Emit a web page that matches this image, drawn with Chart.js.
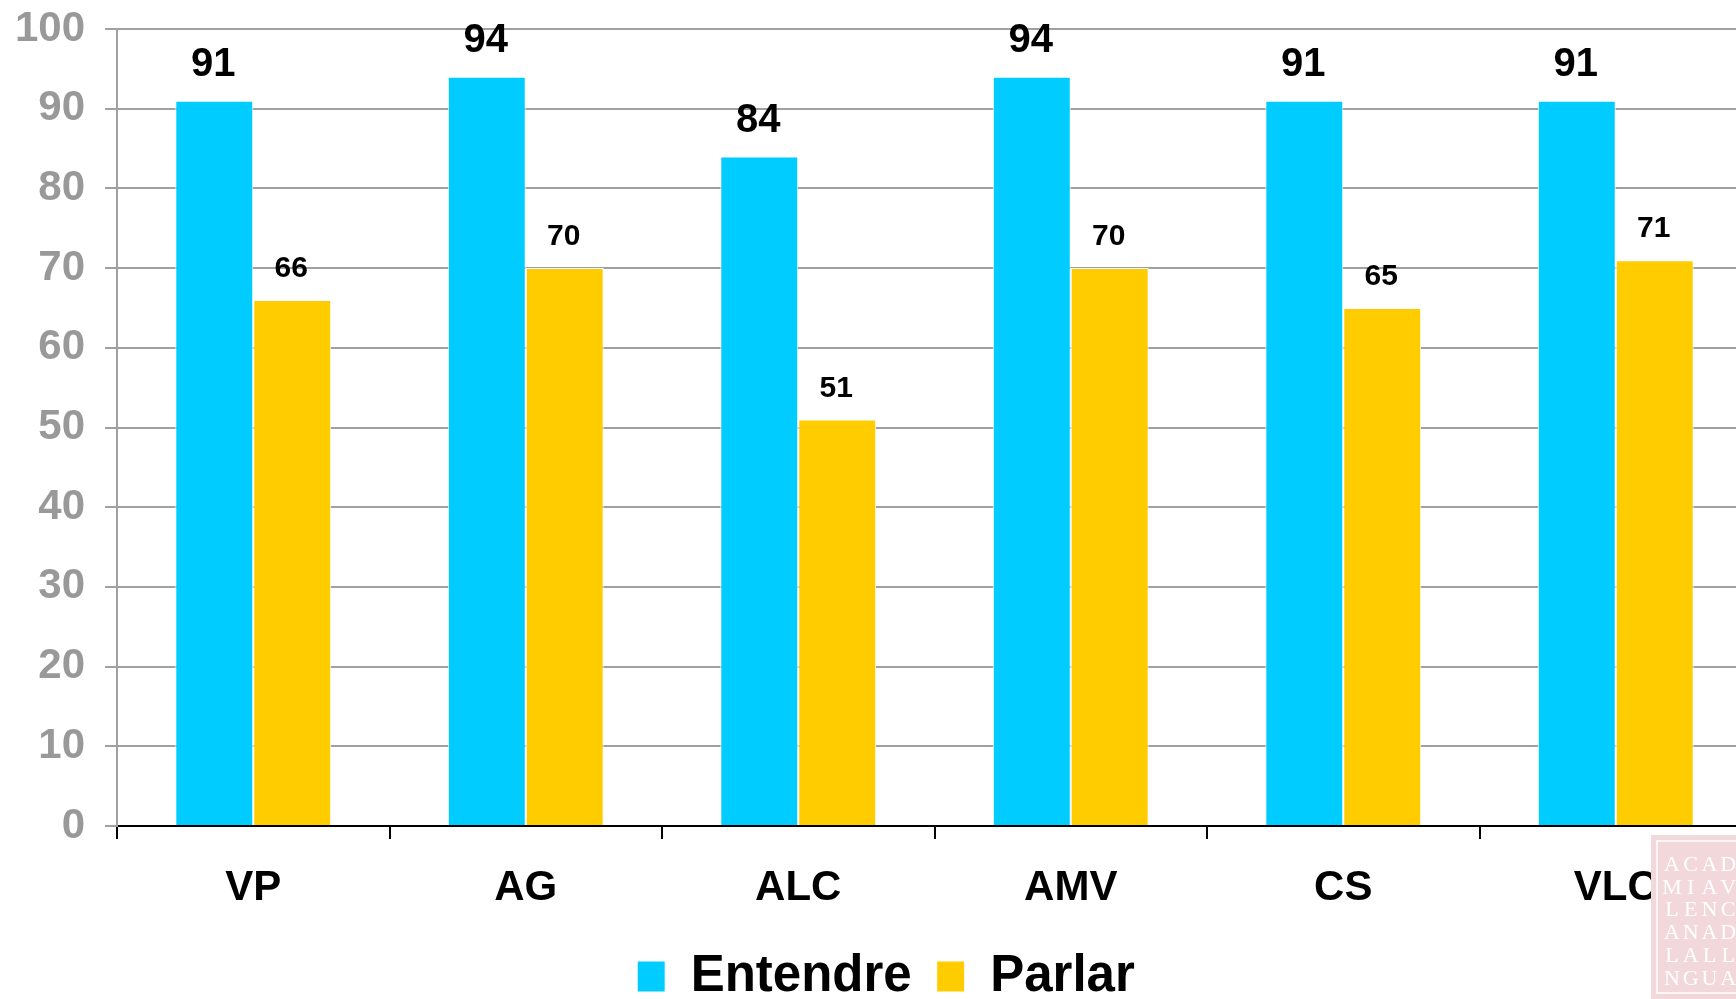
<!DOCTYPE html>
<html>
<head>
<meta charset="utf-8">
<script src="https://cdn.jsdelivr.net/npm/chart.js@4.4.1/dist/chart.umd.min.js"></script>
<style>
  html, body { margin:0; padding:0; background:#fff; overflow:hidden; }
  #myChart { display:block; }
</style>
</head>
<body>
<canvas id="myChart" width="1760" height="1012"></canvas>
<script>
// data
var comarques = ["VP", "AG", "ALC", "AMV", "CS", "VLC"];
var entendre = [91, 94, 84, 94, 91, 91];
var parlar = [66, 70, 51, 70, 65, 71];
var yTicks = [0, 10, 20, 30, 40, 50, 60, 70, 80, 90, 100];

var FONT = "'Liberation Sans', Arial, sans-serif";

// numbers over the bars
var barLabels = {
  id: "barLabels",
  afterDatasetsDraw: function(chart){
    var ctx = chart.ctx;
    ctx.save();
    ctx.fillStyle = "#000";
    ctx.textAlign = "center";
    ctx.textBaseline = "alphabetic";
    chart.data.datasets.forEach(function(ds, i){
      var meta = chart.getDatasetMeta(i);
      var big = i === 0;
      ctx.font = "bold " + (big ? 40 : 30) + "px " + FONT;
      meta.data.forEach(function(bar, j){
        ctx.fillText(String(ds.data[j]), bar.x - 1, bar.y - (big ? 25 : 23));
      });
    });
    ctx.restore();
  }
};

// legend is a little right of the canvas centre in the original
var legendShift = {
  id: "legendShift",
  afterLayout: function(chart){
    chart.legend.left += 10;
    chart.legend.right += 10;
  }
};

// faded logo in the corner
var logo = {
  id: "logo",
  afterDraw: function(chart){
    var ctx = chart.ctx;
    var rows = ["ACADE", "MIAVA", "LENCI", "ANADE", "LALLE", "NGUA"];
    ctx.save();
    ctx.fillStyle = "#f3d8db";
    ctx.fillRect(1651, 835, 112, 164);
    ctx.strokeStyle = "#ffffff";
    ctx.lineWidth = 1.5;
    ctx.strokeRect(1657, 841, 112, 152);
    ctx.fillStyle = "#ffffff";
    ctx.font = "22px 'Liberation Serif', 'DejaVu Serif', serif";
    ctx.textAlign = "center";
    rows.forEach(function(r, i){
      for (var k = 0; k < r.length; k++) {
        ctx.fillText(r[k], 1672 + k * 18.7, 865 + i * 22.8);
      }
    });
    ctx.restore();
  }
};

var myChart = document.getElementById("myChart").getContext("2d");

var barChart = new Chart(myChart, {
  type: "bar",
  data: {
    labels: comarques,
    datasets: [{
      label: "Entendre",
      data: entendre,
      backgroundColor: "#00ccff",
      borderColor: "#ffffff",
      borderWidth: 1
    }, {
      label: "Parlar",
      data: parlar,
      backgroundColor: "#ffcc00",
      borderColor: "#ffffff",
      borderWidth: 1
    }]
  },
  options: {
    responsive: false,
    devicePixelRatio: 1,
    animation: false,
    layout: { padding: { top: 29, right: 8, left: 0, bottom: 0 } },
    datasets: { bar: { categoryPercentage: 0.572, barPercentage: 1 } },
    plugins: {
      tooltip: { enabled: false },
      legend: {
        position: "bottom",
        labels: {
          font: { family: FONT, size: 51, weight: "bold" },
          color: "#000",
          boxWidth: 28,
          boxHeight: 31,
          padding: 25
        }
      }
    },
    scales: {
      x: {
        grid: {
          drawOnChartArea: false,
          color: "#000",
          lineWidth: 2,
          tickLength: 13,
          offset: true
        },
        border: { color: "#000", width: 2 },
        ticks: {
          font: { family: FONT, size: 42, weight: "bold" },
          color: "#000",
          padding: 24
        },
        afterFit: function(scale){ scale.height = 100; }
      },
      y: {
        min: 0,
        max: 100,
        afterBuildTicks: function(scale){
          scale.ticks = yTicks.map(function(v){ return { value: v }; });
        },
        grid: { color: "#a0a0a0", lineWidth: 2, tickLength: 12 },
        border: { color: "#a0a0a0", width: 2 },
        ticks: {
          font: { family: FONT, size: 42, weight: "bold" },
          color: "#999999",
          padding: 20
        },
        afterFit: function(scale){
          scale.width = 117;
          scale.paddingTop = 0;
          scale.paddingBottom = 0;
        }
      }
    }
  },
  plugins: [barLabels, legendShift, logo]
});
</script>
</body>
</html>
